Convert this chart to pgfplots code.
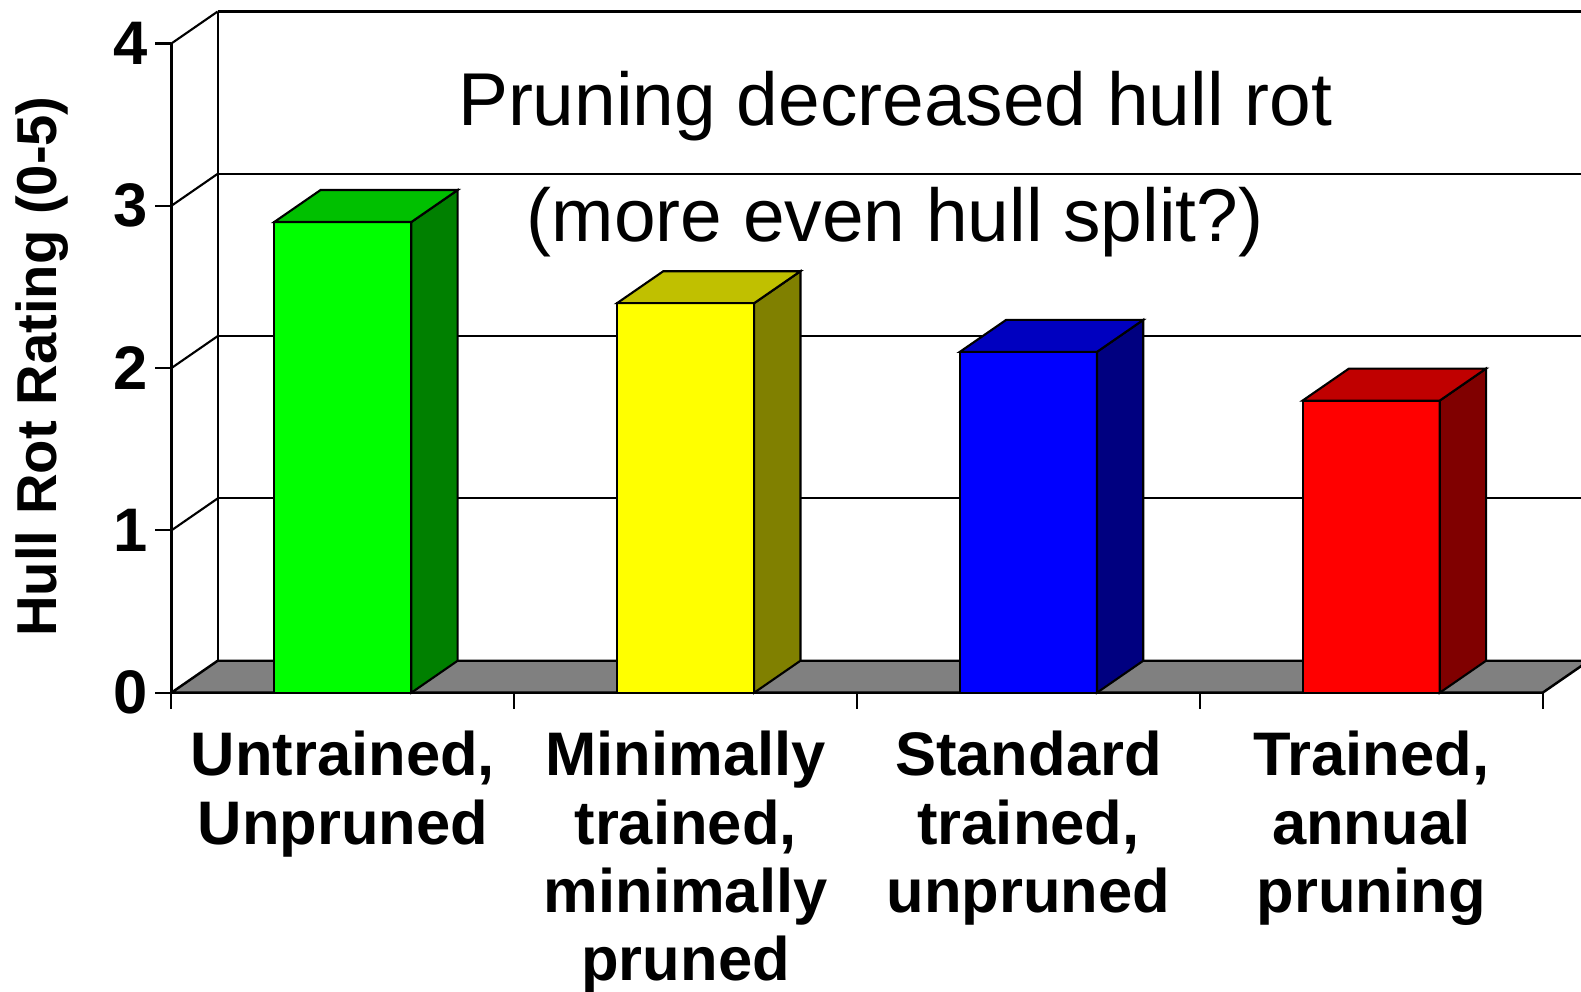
\documentclass[border=0pt]{standalone}
\usepackage{fontspec}
\setmainfont{Liberation Sans}
\usepackage{pgfplots}
\pgfplotsset{compat=1.18}
\definecolor{gFront}{HTML}{00FF00}\definecolor{gTop}{HTML}{00C000}\definecolor{gSide}{HTML}{008000}
\definecolor{yFront}{HTML}{FFFF00}\definecolor{yTop}{HTML}{C0C000}\definecolor{ySide}{HTML}{808000}
\definecolor{bFront}{HTML}{0000FF}\definecolor{bTop}{HTML}{0000C0}\definecolor{bSide}{HTML}{000080}
\definecolor{rFront}{HTML}{FF0000}\definecolor{rTop}{HTML}{C00000}\definecolor{rSide}{HTML}{800000}
\definecolor{floorgray}{HTML}{808080}
\begin{document}
\begin{tikzpicture}
\begin{axis}[
  x=3.428cm, y=1.623cm,
  xmin=0, xmax=4, ymin=0, ymax=4,
  clip=false,
  axis lines*=left,
  axis line style={line width=0.8pt, black},
  tick align=outside,
  major tick length=0.16cm,
  tick style={line width=0.6pt, black},
  ytick={0,1,2,3,4},
  xtick={0,1,2,3,4},
  xticklabels={,,,,},
  extra x ticks={0.5,1.5,2.5,3.5},
  extra x tick labels={{Untrained,\\Unpruned},{Minimally\\trained,\\minimally\\pruned},{Standard\\trained,\\unpruned},{Trained,\\annual\\pruning}},
  extra x tick style={major tick length=0pt},
  xticklabel style={align=center, font=\fontsize{17.5}{19.4}\selectfont\bfseries, anchor=north, inner sep=0pt, yshift=-0.38cm},
  yticklabel style={font=\fontsize{17.5}{20}\selectfont\bfseries, xshift=0.05cm},
  /pgf/number format/assume math mode=true,
  ylabel={Hull Rot Rating (0-5)},
  ylabel style={font=\fontsize{16}{19}\selectfont\bfseries, at={(axis description cs:-0.094,0.5025)}, anchor=center},
]
% back wall grid lines
\addplot[black, line width=0.6pt] coordinates {(0.135,1.197) (4.3,1.197)};
\addplot[black, line width=0.6pt] coordinates {(0.135,2.197) (4.3,2.197)};
\addplot[black, line width=0.6pt] coordinates {(0.135,3.197) (4.3,3.197)};
\addplot[black, line width=0.6pt] coordinates {(0.135,4.197) (4.3,4.197)};
\addplot[black, line width=0.6pt] coordinates {(0.135,0.197) (0.135,4.197)};
% left wall diagonals
\addplot[black, line width=0.6pt] coordinates {(0,1) (0.135,1.197)};
\addplot[black, line width=0.6pt] coordinates {(0,2) (0.135,2.197)};
\addplot[black, line width=0.6pt] coordinates {(0,3) (0.135,3.197)};
\addplot[black, line width=0.6pt] coordinates {(0,4) (0.135,4.197)};
% floor
\addplot[fill=floorgray, draw=black, line width=0.7pt] coordinates {(0,0) (4,0) (4.135,0.197) (0.135,0.197)} -- cycle;
% bars: front faces
\addplot[ybar, bar width=0.4, bar shift=0pt, fill=gFront, draw=black, line width=0.6pt] coordinates {(0.5,2.9)};
\addplot[ybar, bar width=0.4, bar shift=0pt, fill=yFront, draw=black, line width=0.6pt] coordinates {(1.5,2.4)};
\addplot[ybar, bar width=0.4, bar shift=0pt, fill=bFront, draw=black, line width=0.6pt] coordinates {(2.5,2.1)};
\addplot[ybar, bar width=0.4, bar shift=0pt, fill=rFront, draw=black, line width=0.6pt] coordinates {(3.5,1.8)};
% side faces
\addplot[fill=gSide, draw=black, line width=0.6pt] coordinates {(0.7,0) (0.835,0.197) (0.835,3.097) (0.7,2.9)} -- cycle;
\addplot[fill=ySide, draw=black, line width=0.6pt] coordinates {(1.7,0) (1.835,0.197) (1.835,2.597) (1.7,2.4)} -- cycle;
\addplot[fill=bSide, draw=black, line width=0.6pt] coordinates {(2.7,0) (2.835,0.197) (2.835,2.297) (2.7,2.1)} -- cycle;
\addplot[fill=rSide, draw=black, line width=0.6pt] coordinates {(3.7,0) (3.835,0.197) (3.835,1.997) (3.7,1.8)} -- cycle;
% top faces
\addplot[fill=gTop, draw=black, line width=0.6pt] coordinates {(0.3,2.9) (0.7,2.9) (0.835,3.097) (0.435,3.097)} -- cycle;
\addplot[fill=yTop, draw=black, line width=0.6pt] coordinates {(1.3,2.4) (1.7,2.4) (1.835,2.597) (1.435,2.597)} -- cycle;
\addplot[fill=bTop, draw=black, line width=0.6pt] coordinates {(2.3,2.1) (2.7,2.1) (2.835,2.297) (2.435,2.297)} -- cycle;
\addplot[fill=rTop, draw=black, line width=0.6pt] coordinates {(3.3,1.8) (3.7,1.8) (3.835,1.997) (3.435,1.997)} -- cycle;
% annotation
\node[anchor=base, font=\fontsize{21.3}{25}\selectfont] at (axis cs:2.111,3.492) {Pruning decreased hull rot};
\node[anchor=base, font=\fontsize{21.3}{25}\selectfont] at (axis cs:2.111,2.777) {(more even hull split?)};
\coordinate (bbBL) at (axis cs:-0.5,-1.844);
\coordinate (bbTR) at (axis cs:4.112,4.268);
\end{axis}
\pgfresetboundingbox
\path[use as bounding box] (bbBL) rectangle (bbTR);
\end{tikzpicture}
\end{document}
